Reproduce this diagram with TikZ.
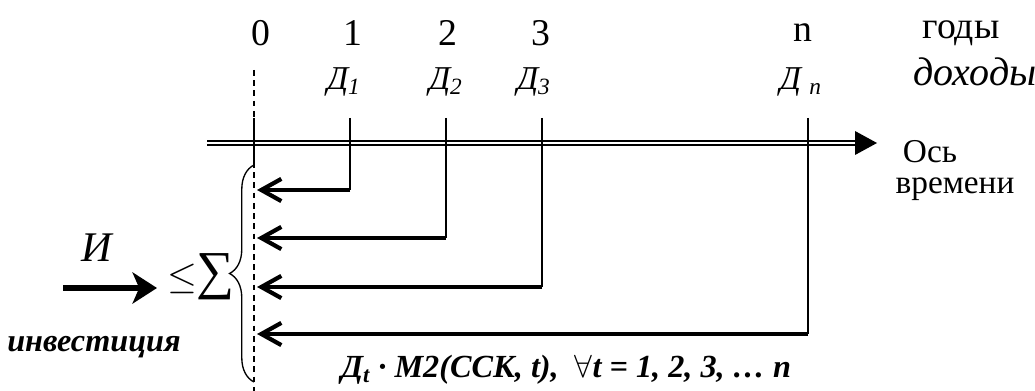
\documentclass[tikz,border=0pt]{standalone}
\usepackage{amsmath}
\usepackage{fontspec}
\setmainfont{Liberation Serif}
\usetikzlibrary{
    arrows.meta,
    decorations.pathreplacing
}

\begin{document}
\begin{tikzpicture}[x=0.45pt,y=-0.45pt,
    tick/.style={line width=0.9pt},
    back/.style={line width=1.9pt,-{Straight Barb[length=9pt,width=10pt,line width=1.9pt]}},
    txt/.style={font=\fontsize{17}{19}\selectfont},
    inc/.style={font=\fontsize{15}{17}\selectfont\itshape},
    bi/.style={font=\fontsize{14.5}{17}\selectfont\bfseries\itshape}
]
\useasboundingbox (0,0) rectangle (1035,391);

\def\ytop{118}
\def\yax{143}
\def\xo{254}

% Time axis (double line)
\coordinate (axL) at (207,\yax);
\coordinate (axE) at (856,\yax);
\coordinate (axT) at (877,\yax);
\draw[line width=0.6pt, double distance=1.3pt] (axL) -- (axE);
\fill (axT) -- ++(-22,-12) -- ++(0,24) -- cycle;

% Zero line
\coordinate (z0) at (\xo,70);
\coordinate (z1) at (\xo,391);
\draw[line width=0.6pt, dash pattern=on 2.6pt off 2pt] (z0) -- (z1);
\coordinate (t0) at (\xo,\ytop);
\coordinate (b0) at (\xo,165);
\draw[tick] (t0) -- (b0);

% Year labels
\node[txt] (y0) at (261,33) {0};
\node[txt] (y1) at (353,33) {1};
\node[txt] (y2) at (448,33) {2};
\node[txt] (y3) at (541,33) {3};
\node[txt] (yn) at (803,33) {n};
\node[txt] (years) at (961,33) {годы};

% Incomes
\node[inc] (d1) at (344,82) {Д\textsubscript{1}};
\node[inc] (d2) at (446,82) {Д\textsubscript{2}};
\node[inc] (d3) at (534,82) {Д\textsubscript{3}};
\node[inc] (dn) at (801,82) {Д \textsubscript{n}};
\node[font=\fontsize{18}{20}\selectfont\itshape] (inc) at (975,72) {доходы};

\node[font=\fontsize{15}{17}\selectfont, inner sep=0pt] (os) at (930,152) {Ось};
\node[font=\fontsize{15}{17}\selectfont, inner sep=0pt] (vr) at (955,189) {времени};

% Discounted incomes back to zero
\foreach \x/\y/\k in {350/190/1, 446/238/2, 542/287/3, 808/334/n} {
    \coordinate (top\k) at (\x,\ytop);
    \coordinate (bend\k) at (\x,\y);
    \coordinate (end\k) at (257,\y);
    \draw[tick] (top\k) -- (bend\k);
    \draw[back] (bend\k) -- (end\k);
}

% Brace
\coordinate (brB) at (\xo,382);
\coordinate (brT) at (\xo,165);
\draw[line width=0.6pt, decorate, decoration={brace, amplitude=11pt}] (brB) -- (brT);

% Investment
\node[font=\fontsize{19}{21}\selectfont\itshape] (inv) at (97,248) {И};
\coordinate (ia) at (63,288);
\coordinate (ib) at (157,288);
\draw[line width=2.7pt, -{Stealth[length=11pt,width=14pt,inset=3pt]}] (ia) -- (ib);
\node[font=\fontsize{17}{19}\selectfont, inner sep=0pt] (le) at (182,279) {$\leq$};
\node[font=\fontsize{24}{26}\selectfont, inner sep=0pt] (sum) at (216,277) {∑};
\node[bi] (invtxt) at (94,347) {инвестиция};

% Formula
\node[bi] (form) at (566,370)
    {Д\textsubscript{t} · M2(ССК, t),\ \ $\forall$t = 1, 2, 3, … n};

\end{tikzpicture}
\end{document}
